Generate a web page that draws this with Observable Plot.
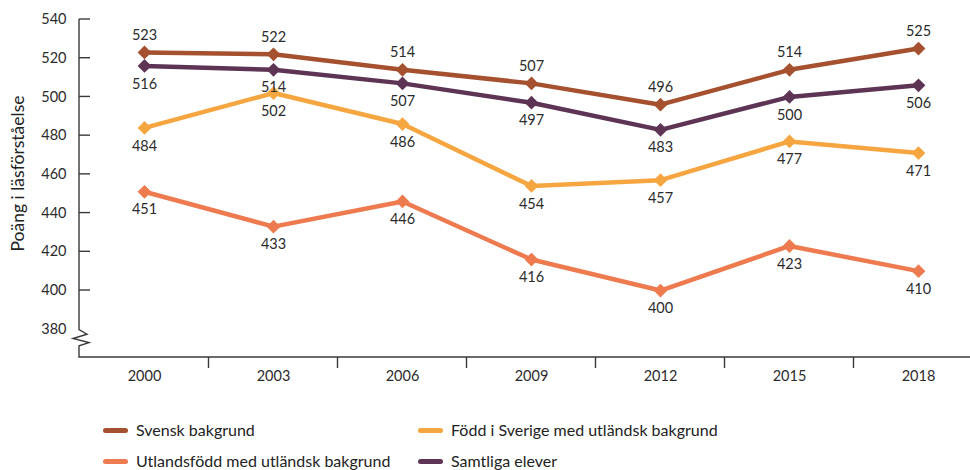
<!DOCTYPE html>
<html><head><meta charset="utf-8">
<script src="https://cdn.jsdelivr.net/npm/d3@7"></script>
<script src="https://cdn.jsdelivr.net/npm/@observablehq/plot@0.6"></script>
<style>
html,body{margin:0;padding:0;background:#fff;}
body{position:relative;width:970px;height:470px;overflow:hidden;font-family:Lato,"Open Sans",sans-serif;}
#chart{position:absolute;left:0;top:0;width:970px;height:410px;}
#chart svg{display:block;overflow:hidden;}
.item{position:absolute;display:flex;align-items:center;height:20px;line-height:20px;font-size:16px;color:#222;white-space:nowrap;}
.sw{width:25px;height:5px;border-radius:3px;margin-right:8px;}
</style></head><body>
<div id="chart"></div>
<div id="legend"></div>
<script>
const years = ["2000","2003","2006","2009","2012","2015","2018"];
const svensk = [523,522,514,507,496,514,525];
const fodd = [484,502,486,454,457,477,471];
const utlands = [451,433,446,416,400,423,410];
const samtliga = [516,514,507,497,483,500,506];
const seriesNames = ["Svensk bakgrund","Född i Sverige med utländsk bakgrund","Utlandsfödd med utländsk bakgrund","Samtliga elever"];
const seriesValues = [svensk, fodd, utlands, samtliga];
const colors = ["#A5502F","#F6A640","#EE7A4F","#5E3454"];
const labelAbove = [true,false,false,false];
const yTicks = [380,400,420,440,460,480,500,520,540];
const yTitle = "Poäng i läsförståelse";

const rows = [];
seriesNames.forEach((name, s) => {
  seriesValues[s].forEach((v, i) => rows.push({series: name, year: years[i], value: v, above: labelAbove[s]}));
});
const drawOrder = [seriesNames[2], seriesNames[1], seriesNames[3], seriesNames[0]];

function axesMark(index, scales, values, dims) {
  const {x, y} = scales;
  const g = d3.create("svg:g").attr("fill", "none").attr("stroke", "#3a3a3a").attr("stroke-width", 1.4);
  const ax = dims.marginLeft;
  const bottom = dims.height - dims.marginBottom;
  const top = y(yTicks[yTicks.length - 1]);
  const zTop = y(379.5), zBot = y(371.2);
  const zh = zBot - zTop;
  const zig = [[0,0],[8,0.28],[-6,0.55],[10,0.8],[0,1]];
  let d = `M${ax},${top}L${ax},${zTop}`;
  zig.forEach(([dx, f]) => { d += `L${ax + dx},${zTop + f * zh}`; });
  d += `L${ax},${bottom}L${dims.width + 20},${bottom}`;
  g.append("path").attr("d", d);
  yTicks.filter(t => t >= 400).forEach(t => {
    g.append("line").attr("x1", ax).attr("x2", ax + 11).attr("y1", y(t)).attr("y2", y(t));
  });
  const step = x(years[1]) - x(years[0]);
  years.forEach((yr, i) => {
    if (i === 0) return;
    const bx = x(yr) - step / 2;
    g.append("line").attr("x1", bx).attr("x2", bx).attr("y1", bottom).attr("y2", bottom + 11);
  });
  const lastX = x(years[years.length - 1]) + step / 2;
  g.append("line").attr("x1", lastX).attr("x2", lastX).attr("y1", bottom).attr("y2", bottom + 11);
  return g.node();
}

const plot = Plot.plot({
  width: 970,
  height: 410,
  marginLeft: 79,
  marginTop: 19,
  marginBottom: 53,
  marginRight: 0,
  style: {fontFamily: "Lato, 'Open Sans', sans-serif", fontSize: "14.5px", color: "#2b2b2b", background: "white", overflow: "hidden"},
  x: {type: "point", domain: years, range: [79, 982], padding: 0.5},
  y: {domain: [365.4, 540], range: [357, 19]},
  color: {domain: seriesNames, range: colors},
  marks: [
    Plot.axisY(yTicks, {tickSize: 0, tickPadding: 13, label: null, fontSize: 14.5}),
    Plot.axisX(years, {tickSize: 0, tickPadding: 13, label: null, fontSize: 14.5}),
    axesMark,
    Plot.text([yTitle], {frameAnchor: "left", textAnchor: "middle", rotate: -90, dx: -61, dy: -15, fontSize: 17.5, fill: "#222"}),
    ...drawOrder.map(name => Plot.line(rows.filter(r => r.series === name), {x: "year", y: "value", stroke: "series", strokeWidth: 4.5, strokeLinejoin: "round", strokeLinecap: "round"})),
    ...drawOrder.map(name => Plot.dot(rows.filter(r => r.series === name), {x: "year", y: "value", fill: "series", symbol: "diamond2", r: 6.2, stroke: null})),
    Plot.text(rows, {x: "year", y: "value", text: d => String(d.value), fill: "#2b2b2b", fontSize: 14.5, filter: d => d.above, dy: -17}),
    Plot.text(rows, {x: "year", y: "value", text: d => String(d.value), fill: "#2b2b2b", fontSize: 14.5, filter: d => !d.above, dy: 18})
  ]
});
document.getElementById("chart").appendChild(plot);

const legendPos = [[103, 420], [418, 420], [103, 451], [418, 451]];
const legend = document.getElementById("legend");
seriesNames.forEach((name, i) => {
  const it = document.createElement("div");
  it.className = "item";
  it.style.left = legendPos[i][0] + "px";
  it.style.top = legendPos[i][1] + "px";
  const sw = document.createElement("span");
  sw.className = "sw";
  sw.style.background = colors[i];
  const tx = document.createElement("span");
  tx.textContent = name;
  it.appendChild(sw); it.appendChild(tx);
  legend.appendChild(it);
});
</script>
</body></html>
